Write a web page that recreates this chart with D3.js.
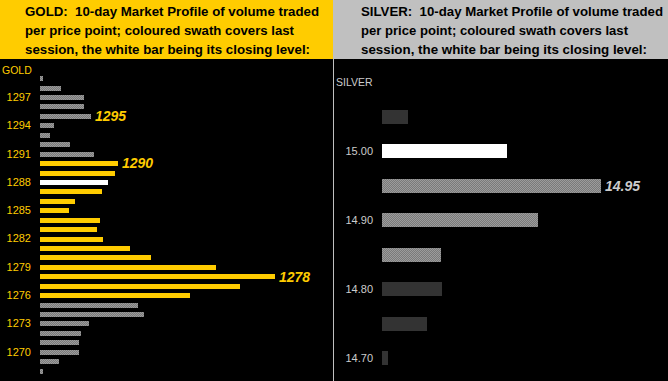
<!DOCTYPE html>
<html>
<head>
<meta charset="utf-8">
<script src="https://cdn.jsdelivr.net/npm/d3@7"></script>
<style>
  body { margin: 0; background: #000; }
  svg { display: block; font-family: "Liberation Sans", Arial, sans-serif; }
  text { white-space: pre; }
</style>
</head>
<body>
<div id="chart"></div>
<script>
// gold profile, top row first
const goldPrices = [1299, 1298, 1297, 1296, 1295, 1294, 1293, 1292, 1291, 1290, 1289, 1288, 1287, 1286, 1285, 1284,
  1283, 1282, 1281, 1280, 1279, 1278, 1277, 1276, 1275, 1274, 1273, 1272, 1271, 1270, 1269, 1268];
const goldVolume = [3, 21, 44, 44, 51, 14, 10, 30, 54, 78, 75, 68, 62, 35, 29, 60,
  57, 63, 90, 111, 176, 235, 200, 150, 98, 104, 49, 41, 39, 39, 19, 3];
const goldSession = [1276, 1290];
const goldClose = 1288;
const goldTicks = [1297, 1294, 1291, 1288, 1285, 1282, 1279, 1276, 1273, 1270];
const goldCallouts = [1295, 1290, 1278];

// silver profile
const silverPrices = [15.05, 15.00, 14.95, 14.90, 14.85, 14.80, 14.75, 14.70];
const silverVolume = [26, 125, 219, 156, 59, 60, 45, 6];
const silverSession = [14.85, 15.00];
const silverClose = 15.00;
const silverTicks = [15.00, 14.90, 14.80, 14.70];
const silverCallouts = [14.95];

const goldTitle = ['GOLD:  10-day Market Profile of volume traded',
  'per price point; coloured swath covers last',
  'session, the white bar being its closing level:'];
const silverTitle = ['SILVER:  10-day Market Profile of volume traded',
  'per price point; coloured swath covers last',
  'session, the white bar being its closing level:'];

const width = 668, height = 381, split = 333, headerH = 59;

const svg = d3.select('#chart').append('svg').attr('width', width).attr('height', height);

// dithered grey like the original
const defs = svg.append('defs');
const pat = defs.append('pattern').attr('id', 'dither')
  .attr('width', 2).attr('height', 2).attr('patternUnits', 'userSpaceOnUse');
pat.append('rect').attr('width', 2).attr('height', 2).attr('fill', '#7a7a7a');
pat.append('rect').attr('width', 1).attr('height', 1).attr('fill', '#9c9c9c');
pat.append('rect').attr('x', 1).attr('y', 1).attr('width', 1).attr('height', 1).attr('fill', '#9c9c9c');

svg.append('rect').attr('width', width).attr('height', height).attr('fill', '#000');

// headers
svg.append('rect').attr('x', 0).attr('y', 0).attr('width', split).attr('height', headerH).attr('fill', '#ffcc00');
svg.append('rect').attr('x', split).attr('y', 0).attr('width', width - split).attr('height', headerH).attr('fill', '#c0c0c0');
svg.append('line').attr('x1', split + 0.5).attr('x2', split + 0.5).attr('y1', headerH).attr('y2', height)
  .attr('stroke', '#c0c0c0').attr('stroke-width', 1);

const renderTitle = (lines, x, lens) => {
  svg.append('g').selectAll('text').data(lines).join('text')
    .attr('x', x)
    .attr('y', (d, i) => 16 + i * 19.2)
    .attr('font-size', 13.5)
    .attr('font-weight', 'bold')
    .attr('fill', '#000')
    .attr('xml:space', 'preserve')
    .attr('textLength', (d, i) => lens[i])
    .attr('lengthAdjust', 'spacingAndGlyphs')
    .text(d => d);
}
renderTitle(goldTitle, 25, [294, 269, 285]);
renderTitle(silverTitle, 361, [302, 267, 286]);

// one profile panel
const renderProfile = (opt) => {
  const y = d3.scaleBand().domain(opt.prices).range(opt.yRange).paddingInner(opt.pad).paddingOuter(opt.pad / 2);
  const x = d3.scaleLinear().domain([0, d3.max(opt.volume)]).range([opt.x0, opt.x1]);
  const rows = opt.prices.map((p, i) => ({ price: p, value: opt.volume[i] }));

  const fillFor = d => {
    if (d.price === opt.close) return '#ffffff';
    if (d.price >= opt.session[0] && d.price <= opt.session[1]) return opt.sessionFill;
    return opt.otherFill;
  };

  svg.append('g').attr('shape-rendering', 'crispEdges')
    .selectAll('rect').data(rows).join('rect')
    .attr('x', x(0))
    .attr('y', d => Math.round(y(d.price)))
    .attr('width', d => Math.round(x(d.value) - x(0)))
    .attr('height', Math.round(y.bandwidth()))
    .attr('fill', fillFor);

  const axis = d3.axisLeft(y).tickValues(opt.ticks).tickSize(0).tickPadding(0).tickFormat(opt.fmt);
  const g = svg.append('g')
    .attr('transform', `translate(${opt.tickX},0)`)
    .call(axis);
  g.select('.domain').remove();
  g.selectAll('text').attr('font-size', 11).attr('fill', opt.textColor)
    .attr('font-family', '"Liberation Sans", Arial, sans-serif');

  svg.append('g').selectAll('text').data(rows.filter(d => opt.callouts.includes(d.price))).join('text')
    .attr('x', d => x(d.value) + 4)
    .attr('y', d => y(d.price) + y.bandwidth() / 2)
    .attr('dy', '0.36em')
    .attr('font-size', 14)
    .attr('font-weight', 'bold')
    .attr('font-style', 'italic')
    .attr('fill', opt.textColor)
    .text(d => opt.fmt(d.price));

  svg.append('text')
    .attr('x', opt.nameX).attr('y', opt.nameY)
    .attr('font-size', 10.5)
    .attr('fill', opt.textColor)
    .text(opt.name);
}

renderProfile({
  prices: goldPrices, volume: goldVolume, session: goldSession, close: goldClose,
  ticks: goldTicks, callouts: goldCallouts, fmt: d3.format('d'),
  yRange: [73.8, 375.7], pad: 0.5, x0: 40, x1: 275, tickX: 31,
  sessionFill: '#ffcc00', otherFill: 'url(#dither)', textColor: '#ffcc00',
  name: 'GOLD', nameX: 2, nameY: 74
});

renderProfile({
  prices: silverPrices, volume: silverVolume, session: silverSession, close: silverClose,
  ticks: silverTicks, callouts: silverCallouts, fmt: d3.format('.2f'),
  yRange: [99.75, 375.75], pad: 0.58, x0: 382, x1: 601, tickX: 373,
  sessionFill: 'url(#dither)', otherFill: '#333333', textColor: '#cccccc',
  name: 'SILVER', nameX: 336, nameY: 86
});
</script>
</body>
</html>
